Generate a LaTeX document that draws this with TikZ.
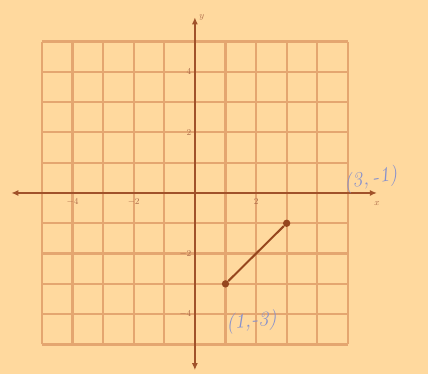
\documentclass[tikz,border=0pt]{standalone}
\usepackage{tikz}
\usetikzlibrary{arrows.meta,positioning}
\definecolor{paperCol}{RGB}{255, 217, 158}
\definecolor{gridCol}{RGB}{228, 166, 112}
\definecolor{axisCol}{RGB}{160, 82, 42}
\definecolor{segCol}{RGB}{150, 70, 30}
\definecolor{inkCol}{RGB}{135, 145, 205}

\begin{document}
\begin{tikzpicture}[
    x=30.6pt, y=30.3pt,
    >={Latex[length=7pt, width=6pt]},
    gridLine/.style={line width=2.2pt, draw=gridCol},
    axisLine/.style={<->, line width=1.6pt, draw=axisCol},
    tickLab/.style={font=\small, text=axisCol!85},
    endPt/.style={circle, fill=segCol, inner sep=2.6pt},
    inkLab/.style={font=\huge\itshape, text=inkCol}
]

    % ---------------- paper ----------------
    \fill[paperCol] (-6.37, 6.37) rectangle (7.62, -5.98);
    \useasboundingbox (-6.37, 6.37) rectangle (7.62, -5.98);

    % ---------------- grid ----------------
    \foreach \k in {-5,...,5} {
        \draw[gridLine] (\k, -5) -- (\k, 5);
        \draw[gridLine] (-5, \k) -- (5, \k);
    }

    % ---------------- axes ----------------
    \coordinate (xl) at (-6.0, 0);
    \coordinate (xr) at (5.95, 0);
    \coordinate (yt) at (0, 5.8);
    \coordinate (yb) at (0, -5.85);
    \draw[axisLine] (xl) -- (xr);
    \draw[axisLine] (yb) -- (yt);
    \node[tickLab, right=1pt] (ylab) at (yt) {$y$};
    \node[tickLab, below=5pt] (xlab) at (xr) {$x$};

    \foreach \x/\lab in {-4/{$-4$}, -2/{$-2$}, 2/{$2$}} {
        \node[tickLab, below=2pt] at (\x, 0) {\lab};
    }
    \foreach \y/\lab in {4/{$4$}, 2/{$2$}, -2/{$-2$}, -4/{$-4$}} {
        \node[tickLab, left=0pt] at (0, \y) {\lab};
    }

    % ---------------- segment ----------------
    \node[endPt] (A) at (1, -3) {};
    \node[endPt] (B) at (3, -1) {};
    \draw[line width=2pt, draw=segCol] (A) -- (B);

    % ---------------- handwriting ----------------
    \node[inkLab, rotate=10] (labB) at (5.75, 0.45) {(3,\,-1)};
    \node[inkLab, rotate=5] (labA) at (1.85, -4.25) {(1,-3)};

\end{tikzpicture}
\end{document}
